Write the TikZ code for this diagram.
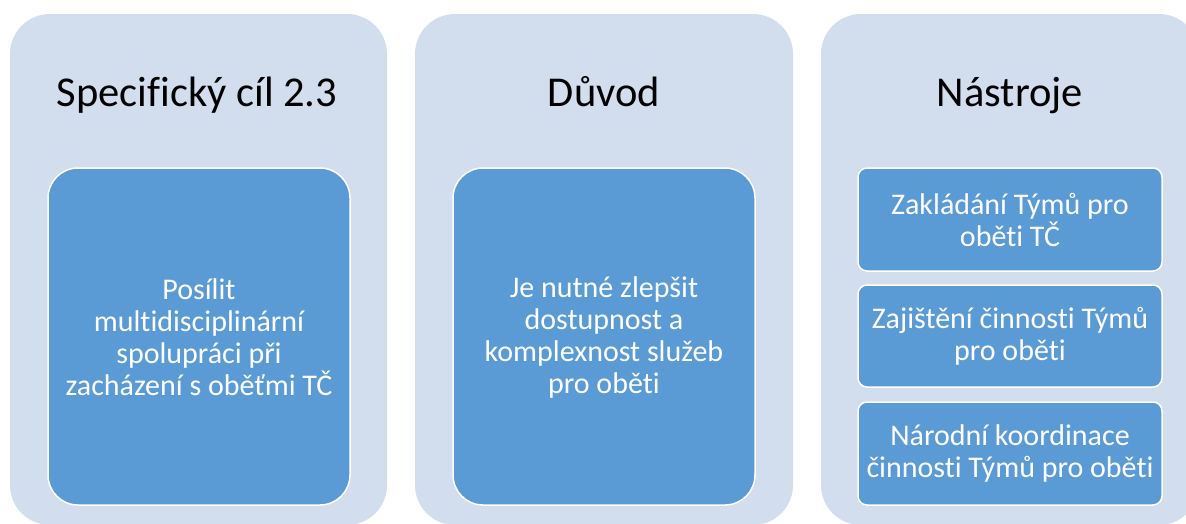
\documentclass[tikz,border=0pt]{standalone}
\usepackage{fontspec}
\setmainfont{Carlito}[Ligatures=NoCommon]
\definecolor{panelc}{HTML}{D2DDEE}
\definecolor{boxc}{HTML}{5B9BD5}
\begin{document}
\begin{tikzpicture}[x=1pt,y=-1pt,
  panel/.style={fill=panelc,draw=none,rounded corners=40pt},
  bigbox/.style={fill=boxc,draw=white,line width=1.5pt,rounded corners=30pt},
  smallbox/.style={fill=boxc,draw=white,line width=1.5pt,rounded corners=9pt},
  title/.style={font=\fontsize{42.5}{50}\selectfont,text=black,anchor=base},
  boxtext/.style={font=\fontsize{30}{32}\selectfont,text=white,align=center,inner sep=0pt}]
\useasboundingbox (0,0) rectangle (1186,523);
\fill[white] (0,0) rectangle (1186,523);
% panels
\path[panel] (10,14) rectangle (387,525);
\path[panel] (415,14) rectangle (793,525);
\path[panel] (821,14) rectangle (1199,525);
% titles
\node[title] (t1) at (197,106) {Specifický cíl 2.3};
\node[title] (t2) at (604,106) {Důvod};
\node[title] (t3) at (1010,106) {Nástroje};
% inner boxes
\path[bigbox] (48,168) rectangle (350,505);
\node[boxtext] (b1) at (199,337) {Posílit\\multidisciplinární\\spolupráci při\\zacházení s oběťmi TČ};
\path[bigbox] (453,168) rectangle (755,505);
\node[boxtext] (b2) at (604,337) {Je nutné zlepšit\\dostupnost a\\komplexnost služeb\\pro oběti};
\path[smallbox] (858,168) rectangle (1162,271);
\node[boxtext] (s1) at (1010,219.5) {Zakládání Týmů pro\\oběti TČ};
\path[smallbox] (858,285) rectangle (1162,387);
\node[boxtext] (s2) at (1010,336) {Zajištění činnosti Týmů\\pro oběti};
\path[smallbox] (858,402) rectangle (1162,505);
\node[boxtext] (s3) at (1010,453.5) {Národní koordinace\\činnosti Týmů pro oběti};
\end{tikzpicture}
\end{document}
